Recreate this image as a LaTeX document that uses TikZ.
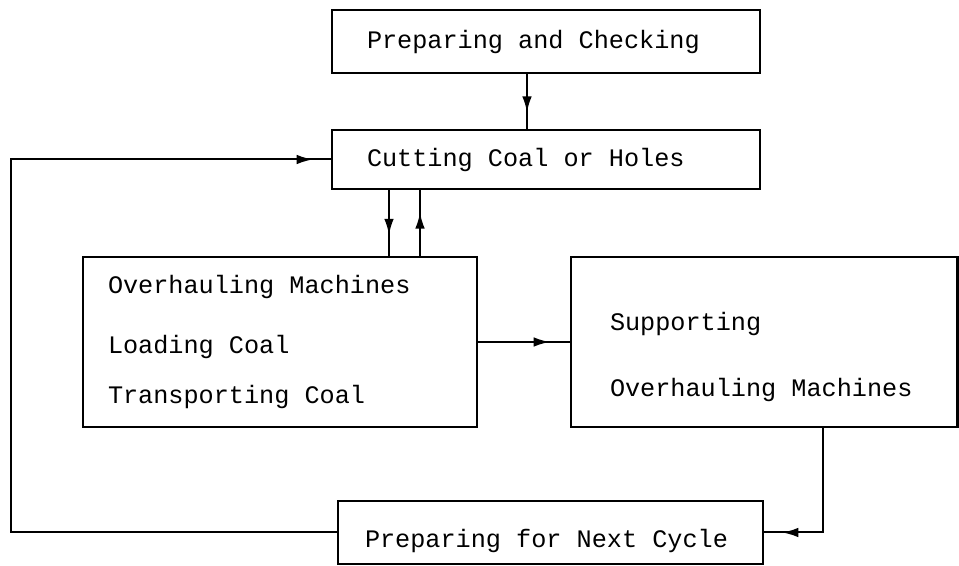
\documentclass[tikz,border=0pt]{standalone}
\usepackage{fontspec}
\newfontfamily\typefont{Liberation Mono}
\usetikzlibrary{arrows.meta, decorations.markings}
\tikzset{
  >=Latex,
  % boxes of the work cycle
  box/.style={draw, line width=1.3pt, align=flush left, inner ysep=0pt},
  % connectors carry their arrow head part way along the line
  flow/.style={line width=1pt, postaction={decorate},
    decoration={markings, mark=at position #1 with {\arrow{Latex[length=8pt,width=4.8pt]}}}}
}

\begin{document}
\begin{tikzpicture}[x=0.5pt, y=-0.5pt, font=\typefont\fontsize{12.6}{25}\selectfont]
    \useasboundingbox (0,0) rectangle (959,566);
    \node[box, text width=179pt, inner xsep=17.5pt, minimum height=31.5pt] (check) at (546,41.5) {Preparing and Checking};
    \node[box, text width=179pt, inner xsep=17.5pt, minimum height=29.5pt] (cut) at (546,159.5) {Cutting Coal or Holes};
    \node[box, text width=172pt, inner xsep=12.5pt, minimum height=85pt] (ops) at (280,342)
      {Overhauling Machines\\[5pt]Loading Coal\\Transporting Coal};
    \node[box, text width=154.25pt, inner xsep=19.5pt, minimum height=85pt] (sup) at (764.25,342)
      {\rule{0pt}{24pt}Supporting\\[8pt]Overhauling Machines};
    \node[box, text width=185.5pt, inner xsep=13.5pt, minimum height=31.5pt] (next) at (550.5,532.5)
      {\rule{0pt}{18pt}Preparing for Next Cycle};
    \coordinate (rail) at (11,0);
    % forward flow
    \draw[flow=0.7] ([xshift=-9.5pt]check.south) -- ([xshift=-9.5pt]cut.north);
    \draw[flow=0.68] ([xshift=-78.5pt]cut.south) -- ([xshift=-78.5pt]cut.south |- ops.north);
    \draw[flow=0.66] ([xshift=-63pt]cut.south |- ops.north) -- ([xshift=-63pt]cut.south);
    \draw[flow=-10pt] (ops.east) -- (sup.west);
    \draw[flow=-9pt] ([xshift=29.4pt]sup.south) |- (next.east);
    % back to the start of the next cycle
    \draw[flow=-9pt] (next.west) -| (rail |- cut.west) -- (cut.west);
\end{tikzpicture}
\end{document}
